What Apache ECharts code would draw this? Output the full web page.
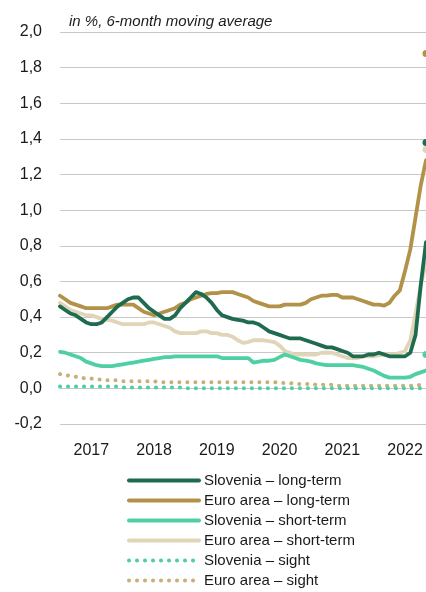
<!DOCTYPE html>
<html>
<head>
<meta charset="utf-8">
<script src="https://cdn.jsdelivr.net/npm/echarts@6/dist/echarts.min.js"></script>
<style>
html,body{margin:0;padding:0;background:#fff;}
#chart{width:426px;height:592px;}
</style>
</head>
<body>
<div id="chart"></div>
<script>
// Monthly categories Jan 2017 - Nov 2022
const categories = [
 '2017-01','2017-02','2017-03','2017-04','2017-05','2017-06','2017-07','2017-08','2017-09','2017-10','2017-11','2017-12',
 '2018-01','2018-02','2018-03','2018-04','2018-05','2018-06','2018-07','2018-08','2018-09','2018-10','2018-11','2018-12',
 '2019-01','2019-02','2019-03','2019-04','2019-05','2019-06','2019-07','2019-08','2019-09','2019-10','2019-11','2019-12',
 '2020-01','2020-02','2020-03','2020-04','2020-05','2020-06','2020-07','2020-08','2020-09','2020-10','2020-11','2020-12',
 '2021-01','2021-02','2021-03','2021-04','2021-05','2021-06','2021-07','2021-08','2021-09','2021-10','2021-11','2021-12',
 '2022-01','2022-02','2022-03','2022-04','2022-05','2022-06','2022-07','2022-08','2022-09','2022-10','2022-11'
];
const yearLabels = ['2017','2018','2019','2020','2021','2022'];
const yTicks = [-0.2,0,0.2,0.4,0.6,0.8,1.0,1.2,1.4,1.6,1.8,2.0];

const sloLong = [
 0.46,0.44,0.42,0.41,0.39,0.37,0.36,0.36,0.37,0.40,0.43,0.46,
 0.48,0.50,0.51,0.51,0.48,0.45,0.43,0.41,0.39,0.39,0.41,0.45,
 0.48,0.51,0.54,0.53,0.51,0.48,0.44,0.41,0.40,0.39,0.385,0.38,
 0.37,0.37,0.36,0.34,0.32,0.31,0.30,0.29,0.28,0.28,0.28,0.27,
 0.26,0.25,0.24,0.23,0.23,0.22,0.21,0.20,0.18,0.18,0.18,0.19,
 0.19,0.20,0.19,0.18,0.18,0.18,0.18,0.20,0.30,0.58,0.82
];
const euroLong = [
 0.52,0.50,0.48,0.47,0.46,0.45,0.45,0.45,0.45,0.45,0.46,0.47,
 0.47,0.47,0.47,0.45,0.43,0.42,0.41,0.42,0.43,0.44,0.45,0.47,
 0.48,0.50,0.51,0.52,0.53,0.535,0.535,0.54,0.54,0.54,0.53,0.52,
 0.51,0.49,0.48,0.47,0.46,0.46,0.46,0.47,0.47,0.47,0.47,0.48,
 0.50,0.51,0.52,0.52,0.525,0.525,0.51,0.51,0.51,0.50,0.49,0.48,
 0.47,0.47,0.465,0.48,0.52,0.55,0.66,0.78,0.96,1.14,1.28
];
const sloShort = [
 0.205,0.20,0.19,0.18,0.17,0.15,0.14,0.13,0.125,0.125,0.125,0.13,
 0.135,0.14,0.145,0.15,0.155,0.16,0.165,0.17,0.175,0.175,0.18,0.18,
 0.18,0.18,0.18,0.18,0.18,0.18,0.18,0.17,0.17,0.17,0.17,0.17,
 0.17,0.145,0.15,0.155,0.155,0.16,0.175,0.19,0.18,0.17,0.16,0.155,
 0.15,0.14,0.135,0.13,0.13,0.13,0.13,0.13,0.13,0.125,0.12,0.11,
 0.10,0.085,0.07,0.06,0.06,0.06,0.06,0.065,0.08,0.09,0.10
];
const euroShort = [
 0.48,0.46,0.44,0.43,0.42,0.41,0.41,0.40,0.39,0.385,0.38,0.37,
 0.36,0.36,0.36,0.36,0.36,0.37,0.37,0.36,0.35,0.34,0.32,0.31,
 0.31,0.31,0.31,0.32,0.32,0.31,0.31,0.30,0.30,0.29,0.27,0.255,
 0.26,0.27,0.27,0.27,0.265,0.26,0.24,0.21,0.20,0.19,0.19,0.19,
 0.19,0.19,0.20,0.20,0.20,0.19,0.18,0.17,0.17,0.17,0.18,0.18,
 0.18,0.185,0.19,0.19,0.19,0.20,0.21,0.27,0.42,0.58,0.70
];
const sloSight = [
 0.01,0.01,0.01,0.01,0.01,0.01,0.01,0.01,0.01,0.01,0.01,0.01,
 0.005,0.005,0.005,0.005,0.005,0.005,0.005,0.005,0.005,0.005,0.005,0.005,
 0,0,0,0,0,0,0,0,0,0,0,0,
 0,0,0,0,0,0,0,0,0,0,0,0,
 0,0,0,0,0,0,0,0,0,0,0,0,
 0,0,0,0,0,0,0,0,0,0,0
];
const euroSight = [
 0.08,0.075,0.07,0.065,0.06,0.055,0.055,0.05,0.05,0.045,0.045,0.045,
 0.04,0.04,0.04,0.04,0.04,0.04,0.04,0.035,0.035,0.035,0.035,0.035,
 0.035,0.035,0.035,0.035,0.035,0.035,0.035,0.035,0.035,0.035,0.035,0.035,
 0.035,0.035,0.035,0.035,0.035,0.035,0.03,0.03,0.03,0.025,0.025,0.025,
 0.025,0.02,0.02,0.02,0.02,0.015,0.015,0.015,0.015,0.015,0.015,0.015,
 0.015,0.015,0.015,0.015,0.015,0.015,0.015,0.015,0.015,0.02,0.025
];
// latest single-month values shown as dots at the right edge
const lastSloLong = 1.38;
const lastEuroLong = 1.88;
const lastSloShort = 0.19;
const lastEuroShort = 1.34;

const names = ['Slovenia – long-term','Euro area – long-term','Slovenia – short-term','Euro area – short-term','Slovenia – sight','Euro area – sight'];
const colors = {
  sloLong:'#1f6b4f', euroLong:'#b29148', sloShort:'#4fd0a2', euroShort:'#e1d5b8', sloSight:'#4fd0a2', euroSight:'#c8b07c'
};
const FONT = 'Liberation Sans, Arial, sans-serif';

function lineSeries(name, data, color, dotted, z) {
  return {
    name: name, type: 'line', data: data, symbol: 'none', showSymbol: false, z: z,
    lineStyle: dotted
      ? { color: color, width: 4, type: [0.1, 7.9], cap: 'round' }
      : { color: color, width: 3.8, cap: 'round', join: 'round' },
    itemStyle: { color: color },
    emphasis: { disabled: true },
    animation: false
  };
}
function dotSeries(name, value, color, z) {
  return {
    name: name, type: 'scatter', data: [[categories[categories.length - 1], value]],
    symbol: 'circle', symbolSize: 7, clip: false,
    itemStyle: { color: color, opacity: 1 }, z: z,
    emphasis: { disabled: true }, animation: false
  };
}

const chart = echarts.init(document.getElementById('chart'), null, { renderer: 'canvas' });
chart.setOption({
  animation: false,
  backgroundColor: '#ffffff',
  textStyle: { fontFamily: FONT },
  title: {
    text: 'in %, 6-month moving average',
    left: 64, top: 9,
    textStyle: { fontSize: 15, fontStyle: 'italic', fontWeight: 'normal', color: '#1a1a1a', fontFamily: FONT }
  },
  grid: { left: 60, right: 0, top: 32, bottom: 168, containLabel: false },
  legend: {
    data: names,
    orient: 'vertical',
    left: 127, top: 473, padding: 0, height: 119,
    itemWidth: 70, itemHeight: 14, itemGap: 5,
    itemStyle: { opacity: 0 },
    lineStyle: { width: 4 },
    textStyle: { fontSize: 15, color: '#1a1a1a', fontFamily: FONT },
    selectedMode: false
  },
  xAxis: {
    type: 'category', data: categories, boundaryGap: false,
    axisLine: { show: false }, axisTick: { show: false },
    splitLine: { show: false },
    axisLabel: {
      interval: function(index){ return index % 12 === 6; },
      formatter: function(v){ return yearLabels[yearLabels.indexOf(v.slice(0,4))]; },
      fontSize: 16, color: '#1a1a1a', margin: 19, fontFamily: FONT
    }
  },
  yAxis: {
    type: 'value', min: yTicks[0], max: yTicks[yTicks.length-1], interval: 0.2,
    axisLine: { show: false }, axisTick: { show: false },
    splitLine: { show: true, lineStyle: { color: '#c8c8c8', width: 1 } },
    axisLabel: {
      formatter: function(v){ return (Math.round(v*10)/10).toFixed(1).replace('.', ','); },
      fontSize: 16, color: '#1a1a1a', margin: 18, fontFamily: FONT
    }
  },
  series: [
    lineSeries(names[5], euroSight, colors.euroSight, true, 2),
    lineSeries(names[4], sloSight, colors.sloSight, true, 3),
    lineSeries(names[3], euroShort, colors.euroShort, false, 4),
    lineSeries(names[2], sloShort, colors.sloShort, false, 5),
    lineSeries(names[1], euroLong, colors.euroLong, false, 6),
    lineSeries(names[0], sloLong, colors.sloLong, false, 7),
    dotSeries('dot-euro-short', lastEuroShort, colors.euroShort, 8),
    dotSeries('dot-slo-long', lastSloLong, colors.sloLong, 9),
    dotSeries('dot-euro-long', lastEuroLong, colors.euroLong, 9),
    dotSeries('dot-slo-short', lastSloShort, colors.sloShort, 9)
  ]
});
</script>
</body>
</html>
